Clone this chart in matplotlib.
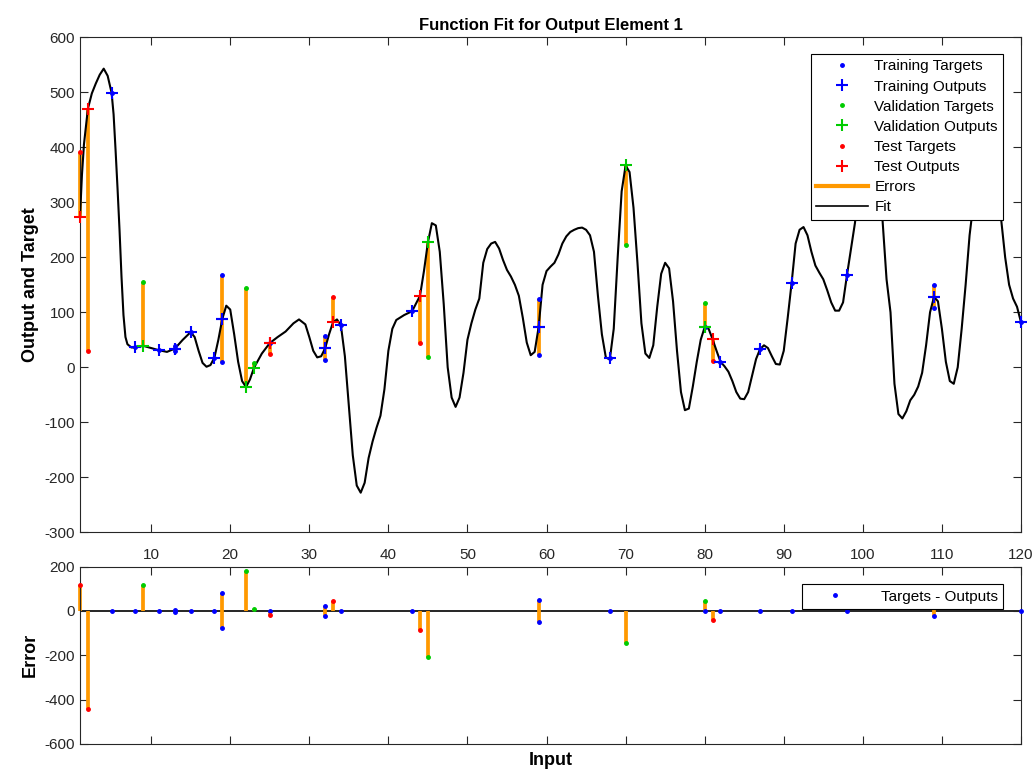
import matplotlib.pyplot as plt
from matplotlib.lines import Line2D

plt.rcParams['font.family'] = ['Liberation Sans', 'DejaVu Sans']
plt.rcParams['axes.unicode_minus'] = False

# Training data (inputs, targets, network outputs)
train_x = [5, 8, 11, 13, 13, 15, 18, 19, 19, 25, 32, 32, 34, 43, 59, 59, 68, 80, 82, 87, 91, 98, 109, 109, 120]
train_t = [499, 36, 31, 38, 30, 64, 17.5, 167, 10, 44, 56, 14, 76, 102, 124, 22, 16, 73, 10, 33, 154, 168, 150, 107, 82]
train_y = [499, 36, 31, 34, 34, 64, 17.5, 88, 88, 44, 35, 35, 76, 102, 73, 73, 16, 73, 10, 33, 154, 168, 128, 128, 82]

# Validation data
val_x = [9, 22, 23, 45, 70, 80]
val_t = [155, 145, 7, 19, 222, 116]
val_y = [39, -36, -1, 227, 367, 73]

# Test data
test_x = [1, 2, 25, 33, 44, 81]
test_t = [391, 29, 24, 128, 44, 11.5]
test_y = [273, 470, 44, 82, 130, 51]

# Fit curve
fit_x = [1, 1.25, 1.5, 2, 2.5, 3, 3.5, 4, 4.5, 5, 5.25, 5.5, 5.75, 6, 6.25, 6.5, 6.75, 7, 7.5, 8, 9, 10, 11, 12, 13,
         14, 15, 15.5, 16, 16.5, 17, 17.5, 18, 18.5, 19, 19.5, 20, 20.5, 21, 21.5, 22,
         22.5, 23, 24, 25, 26, 27, 28, 28.7, 29.5, 30, 30.5, 31, 31.5, 32, 32.5, 33,
         33.5, 34, 34.5, 35, 35.5, 36, 36.5, 37, 37.5, 38, 38.5, 39, 39.5, 40, 40.5,
         41, 42, 43, 44, 44.5, 45, 45.5, 46, 46.5, 47, 47.5, 48, 48.5, 49, 49.5, 50,
         50.5, 51, 51.5, 52, 52.5, 53, 53.5, 54, 54.5, 55, 55.5, 56, 56.5, 57, 57.5,
         58, 58.5, 59, 59.5, 60, 60.5, 61, 61.5, 62, 62.5, 63, 63.5, 64, 64.5, 65,
         65.5, 66, 66.5, 67, 67.5, 68, 68.5, 69, 69.5, 70, 70.5, 71, 71.5, 72, 72.5,
         73, 73.5, 74, 74.5, 75, 75.5, 76, 76.5, 77, 77.5, 78, 78.5, 79, 79.5, 80,
         80.5, 81, 81.5, 82, 82.5, 83, 83.5, 84, 84.5, 85, 85.5, 86, 86.5, 87, 87.5,
         88, 88.5, 89, 89.5, 90, 90.5, 91, 91.5, 92, 92.5, 93, 93.5, 94, 94.5, 95,
         95.5, 96, 96.5, 97, 97.5, 98, 98.5, 99, 99.5, 100, 100.5, 101, 101.5, 102,
         102.5, 103, 103.5, 104, 104.5, 105, 105.5, 106, 106.5, 107, 107.5, 108,
         108.5, 109, 109.5, 110, 110.5, 111, 111.5, 112, 112.5, 113, 113.5, 114,
         114.5, 115, 115.5, 116, 116.5, 117, 117.5, 118, 118.5, 119, 119.5, 120]
fit_y = [273, 350, 405, 470, 498, 516, 532, 543, 530, 499, 460, 395, 325, 250, 165, 95, 55, 42, 36, 36, 39, 35, 31, 28, 34,
         50, 64, 55, 30, 8, 1, 4, 17.5, 50, 88, 112, 105, 60, 10, -25, -36,
         -22, -1, 25, 44, 55, 65, 80, 87, 78, 55, 30, 18, 20, 34.5, 60, 82,
         87, 76, 20, -70, -160, -215, -228, -210, -165, -135, -110, -88, -40, 30, 70,
         86, 95, 102, 130, 175, 227, 262, 258, 210, 115, 0, -55, -72, -55, -10, 50,
         80, 105, 125, 190, 215, 225, 228, 216, 195, 177, 165, 150, 130, 90, 45,
         22, 28, 73, 150, 175, 183, 190, 205, 225, 238, 246, 250, 253, 254, 250,
         240, 210, 130, 60, 18, 14, 70, 200, 320, 367, 355, 290, 190, 80, 25,
         17, 40, 110, 170, 190, 180, 120, 30, -45, -78, -75, -35, 10, 50, 73,
         70, 51, 30, 10, 2, -8, -25, -45, -57, -58, -45, -15, 15, 33, 40,
         35, 20, 6, 5, 30, 90, 154, 225, 250, 255, 240, 210, 185, 172, 160,
         140, 118, 103, 103, 118, 168, 215, 262, 320, 380, 400, 400, 380, 330,
         266, 160, 100, -30, -85, -93, -80, -60, -50, -35, -10, 40,
         100, 128, 120, 70, 10, -25, -30, 0, 70, 150, 240, 300,
         360, 390, 400, 390, 360, 310, 268, 200, 150, 125, 110, 82]

xticks = [10, 20, 30, 40, 50, 60, 70, 80, 90, 100, 110, 120]
orange = '#FF9900'
blue = '#0000FF'
green = '#00CC00'
red = '#FF0000'
axcol = '#262626'

fig = plt.figure(figsize=(10.36, 7.74), dpi=100)
ax1 = fig.add_axes([0.0772, 0.3123, 0.9083, 0.6395])
ax2 = fig.add_axes([0.0772, 0.0388, 0.9083, 0.2291])

sets = [(train_x, train_t, train_y, blue), (val_x, val_t, val_y, green), (test_x, test_t, test_y, red)]

# error bars between targets and outputs
for xs, ts, ys, c in sets:
    for x, t, y in zip(xs, ts, ys):
        ax1.plot([x, x], [t, y], color=orange, lw=2.7, solid_capstyle='butt', zorder=2, clip_on=False)
        ax2.plot([x, x], [0, t - y], color=orange, lw=2.7, solid_capstyle='butt', zorder=2, clip_on=False)

ax1.plot(fit_x, fit_y, color='black', lw=1.5, zorder=3)

for xs, ts, ys, c in sets:
    ax1.plot(xs, ts, '.', color=c, ms=5, zorder=4, clip_on=False)
    ax1.plot(xs, ys, '+', color=c, ms=9, mew=1.5, zorder=5, clip_on=False)
    ax2.plot(xs, [t - y for t, y in zip(ts, ys)], '.', color=c, ms=5, zorder=4, clip_on=False)

ax2.axhline(0, color='black', lw=1.2, zorder=1)

# legends
h = [Line2D([], [], ls='', marker='.', color=blue, ms=5),
     Line2D([], [], ls='', marker='+', color=blue, ms=9, mew=1.5),
     Line2D([], [], ls='', marker='.', color=green, ms=5),
     Line2D([], [], ls='', marker='+', color=green, ms=9, mew=1.5),
     Line2D([], [], ls='', marker='.', color=red, ms=5),
     Line2D([], [], ls='', marker='+', color=red, ms=9, mew=1.5),
     Line2D([], [], color=orange, lw=3),
     Line2D([], [], color='black', lw=1.2)]
labels = ['Training Targets', 'Training Outputs', 'Validation Targets', 'Validation Outputs',
          'Test Targets', 'Test Outputs', 'Errors', 'Fit']
leg = ax1.legend(h, labels, loc='upper right', bbox_to_anchor=(0.981, 0.966), fontsize=11,
                 frameon=True, fancybox=False, framealpha=1, edgecolor='black',
                 handlelength=3.4, handletextpad=0.4, labelspacing=0.4, borderpad=0.35,
                 borderaxespad=0)
leg.get_frame().set_linewidth(0.8)
leg.set_zorder(10)

leg2 = ax2.legend([Line2D([], [], ls='', marker='.', color=blue, ms=5)], ['Targets - Outputs'],
                  loc='upper right', bbox_to_anchor=(0.981, 0.90), fontsize=11,
                  frameon=True, fancybox=False, framealpha=1, edgecolor='black',
                  handlelength=3.6, handletextpad=1.2, borderpad=0.35, borderaxespad=0)
leg2.get_frame().set_linewidth(0.8)
leg2.set_zorder(10)

# axes styling
ax1.set_xlim(1, 120)
ax1.set_ylim(-300, 600)
ax1.set_xticks(xticks)
ax1.set_yticks(range(-300, 601, 100))
ax1.tick_params(direction='in', top=True, right=True, labelbottom=False,
                labelsize=11, colors=axcol, length=6)
ax1.set_title('Function Fit for Output Element 1', fontsize=12, fontweight='bold', pad=5)
ax1.set_ylabel('Output and Target', fontsize=13, fontweight='bold', labelpad=4)

ax2.set_xlim(1, 120)
ax2.set_ylim(-600, 200)
ax2.set_xticks(xticks)
ax2.set_yticks(range(-600, 201, 200))
ax2.tick_params(direction='in', top=True, right=True, labeltop=True, labelbottom=False,
                labelsize=11, colors=axcol, length=6)
ax2.set_ylabel('Error', fontsize=13, fontweight='bold', labelpad=4)
ax2.set_xlabel('Input', fontsize=13, fontweight='bold', labelpad=6)

for ax in (ax1, ax2):
    for s in ax.spines.values():
        s.set_color(axcol)
        s.set_linewidth(0.8)

fig.savefig('out.png', dpi=100)
